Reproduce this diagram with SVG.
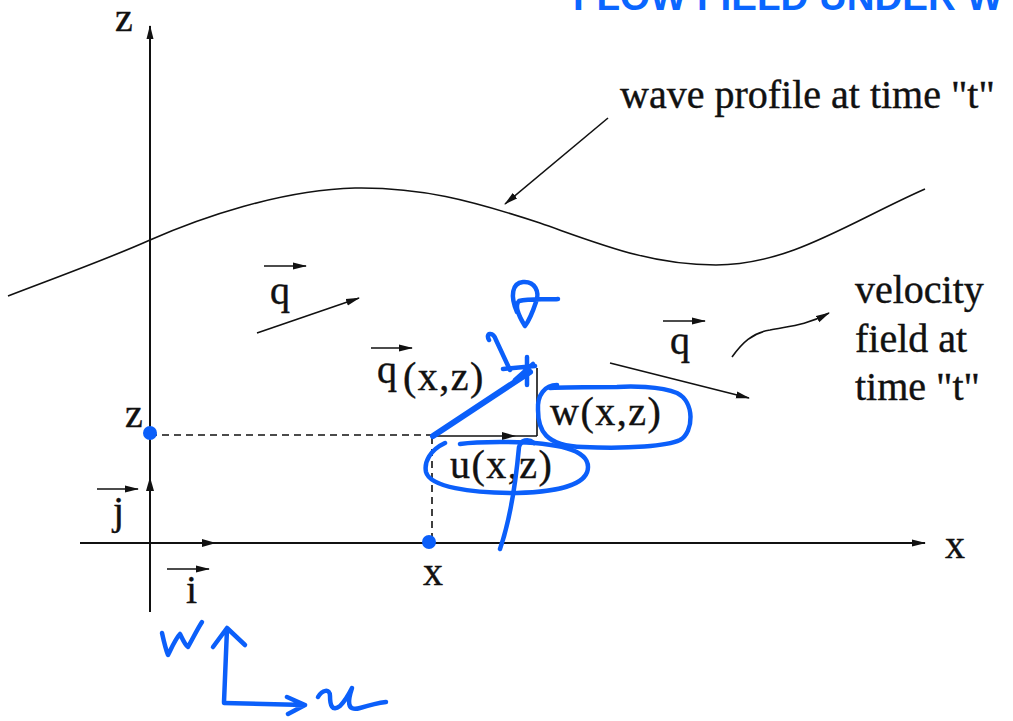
<svg xmlns="http://www.w3.org/2000/svg" width="1013" height="721" viewBox="0 0 1013 721">
<style>
.t{font-family:"Liberation Serif","Times New Roman",serif;font-size:40px;fill:#111;stroke:#111;stroke-width:0.4}
.sp{letter-spacing:1.5px}
.ln{stroke:#111;stroke-width:1.6;fill:none}
.ax{stroke:#111;stroke-width:2;fill:none}
.ds{stroke:#111;stroke-width:1.6;fill:none;stroke-dasharray:7,5}
.hd{fill:#111}
.bl{stroke:#0b5ffa;stroke-width:4.5;fill:none;stroke-linecap:round;stroke-linejoin:round}
.title{font-family:"Liberation Sans",Arial,sans-serif;font-weight:bold;font-size:38.5px;fill:#0a66ff}
</style>
<defs>
<marker id="ah" viewBox="0 0 14 8" refX="13" refY="4" markerWidth="14" markerHeight="8" markerUnits="userSpaceOnUse" orient="auto">
<path d="M0,0.5 L14,4 L0,7.5 z" fill="#111"/>
</marker>
</defs>
<rect width="1013" height="721" fill="#fff"/>
<text class="title" x="573" y="10">FLOW FIELD UNDER W</text>

<g id="axes">
<line class="ax" x1="150" y1="612" x2="150" y2="26" marker-end="url(#ah)"/>
<line class="ax" x1="80" y1="543" x2="925" y2="543" marker-end="url(#ah)"/>
<path class="hd" d="M150,477 L154,491 L146,491 z"/>
<path class="hd" d="M216,543 L202,539 L202,547 z"/>
<text class="t" x="115" y="31">z</text>
<text class="t" x="945" y="558">x</text>
</g>

<g id="wave">
<path class="ln" d="M8,296 C60,276 110,258 150,240 C200,218 280,190 355,188 C420,187 470,200 540,223 C600,244 650,265 716,265 C790,265 850,222 925,189"/>
</g>

<g id="labels">
<text class="t" x="620" y="108">wave profile at time "t"</text>
<text class="t" x="855" y="303">velocity</text>
<text class="t" x="855" y="352">field at</text>
<text class="t" x="855" y="400">time "t"</text>
</g>

<g id="unit-vectors">
<line class="ln" x1="97" y1="489" x2="138" y2="489" marker-end="url(#ah)"/>
<text class="t" x="113" y="524">j</text>
<line class="ln" x1="167" y1="569" x2="209" y2="569" marker-end="url(#ah)"/>
<text class="t" x="186" y="603">i</text>
</g>

<g id="q-left">
<line class="ln" x1="264" y1="266" x2="306" y2="266" marker-end="url(#ah)"/>
<text class="t" x="270" y="304">q</text>
</g>
<g id="q-right">
<line class="ln" x1="663" y1="321" x2="705" y2="321" marker-end="url(#ah)"/>
<text class="t" x="670" y="354">q</text>
</g>
<g id="q-xz">
<line class="ln" x1="371" y1="348" x2="412" y2="348" marker-end="url(#ah)"/>
<text class="t" x="377" y="383">q</text>
<text class="t sp" x="403" y="390">(x,z)</text>
</g>
<g id="coords">
<text class="t" x="125" y="427">z</text>
<text class="t" x="423" y="585">x</text>
<text class="t sp" x="450" y="478">u(x,z)</text>
<text class="t sp" x="550" y="425">w(x,z)</text>
</g>

<g id="connectors">
<line class="ln" x1="608" y1="118" x2="505" y2="204" marker-end="url(#ah)"/>
<line class="ln" x1="257" y1="333" x2="359" y2="298" marker-end="url(#ah)"/>
<line class="ln" x1="610" y1="363" x2="749" y2="398" marker-end="url(#ah)"/>
<path class="ln" d="M732,357 C742,343 752,333 770,330 C790,326 805,326 829,313" marker-end="url(#ah)"/>
<line class="ds" x1="150" y1="435" x2="432" y2="435"/>
<line class="ds" x1="432" y1="437" x2="432" y2="543"/>
<line class="ln" x1="432" y1="436" x2="537" y2="436"/>
<path class="hd" d="M516,436 L502,432 L502,440 z"/>
<line class="ln" x1="537" y1="436" x2="537" y2="368"/>
</g>

<g id="annotations">
<circle cx="150" cy="433" r="7" fill="#0b5ffa"/>
<circle cx="429" cy="542" r="7" fill="#0b5ffa"/>
<line class="bl" x1="433" y1="436" x2="530" y2="372" style="stroke-width:6"/>
<path class="bl" d="M503,369 L535,366 M527,357 L527,385 M515,380 L533,364"/>
<path class="bl" d="M517,312 C510,296 512,283 523,282 C535,281 540,292 536,302 C532,314 528,322 525,326 C520,318 514,306 519,301 C530,298 548,300 558,299"/>
<path class="bl" d="M489,340 C485,333 493,331 496,340 L510,370"/>
<path class="bl" d="M445,443 C430,450 424,462 426,472 C430,487 470,493 517,493 C560,492 588,484 588,467 C588,450 560,442 500,442 C480,442 467,443 460,444"/>
<path class="bl" d="M557,385 C545,385 537,395 538,410 C538,430 545,446 583,447 C630,449 667,446 680,440 C694,432 695,402 677,393 C660,386 630,386 617,387 C590,387 565,387 550,388"/>
<path class="bl" d="M500,549 C510,520 516,480 519,447 C521,440 528,438 534,443"/>
<path class="bl" d="M162,633 C164,642 166,650 168,655 C172,647 176,638 180,634 C183,640 185,645 188,647 C193,638 198,628 202,622"/>
<path class="bl" d="M224,702 L227,629 M213,647 L227,628 L245,645"/>
<path class="bl" d="M224,703 L305,705 M287,697 L305,705 L288,714"/>
<path class="bl" d="M318,697 C322,690 330,688 330,696 C330,705 332,712 340,706 C346,700 350,692 352,688 C348,700 346,712 360,708 C370,705 378,703 386,702"/>
</g>
</svg>
